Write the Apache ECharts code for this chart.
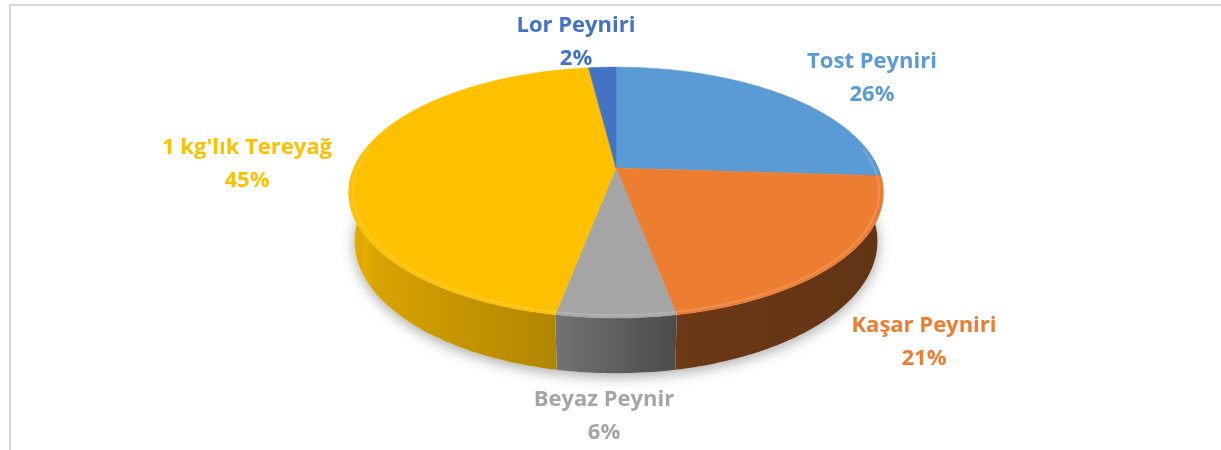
<!DOCTYPE html>
<html>
<head>
<meta charset="utf-8">
<script src="https://cdn.jsdelivr.net/npm/echarts@6/dist/echarts.min.js"></script>
<style>
  html, body { margin: 0; padding: 0; background: #fff; }
  #mainEchart { width: 1221px; height: 450px; }
</style>
</head>
<body>
<div id="mainEchart"></div>
<script>
  // slices, clockwise from 12 o'clock
  var categories = ['Tost Peyniri', 'Kaşar Peyniri', 'Beyaz Peynir', "1 kg'lık Tereyağ", 'Lor Peyniri'];
  var shares = [26, 21, 6, 45, 2];

  var colors = ['#5b9bd5', '#ed7d31', '#a5a5a5', '#ffc000', '#4472c4'];
  // label block centres (layout only)
  var labelAt = [[872, 78], [924, 342], [604, 416], [247, 164], [576, 42]];

  // 3d projection of the disc
  var CX = 616, CY = 168, K = 1190, DIST = 4.54, DEPTH = 0.21;
  var TILT = 27.4 * Math.PI / 180;
  var cT = Math.cos(TILT), sT = Math.sin(TILT);

  function project(theta, rho, z) {
    var X = rho * Math.sin(theta), Y = -rho * Math.cos(theta);
    var vy = -Y * sT + z * cT, w = Y * cT + z * sT, d = DIST - w;
    return [CX + K * X / d, CY - K * vy / d];
  }

  function shade(hex, f) {
    var n = parseInt(hex.slice(1), 16);
    var r = Math.round(((n >> 16) & 255) * f), g = Math.round(((n >> 8) & 255) * f), b = Math.round((n & 255) * f);
    return 'rgb(' + Math.min(r, 255) + ',' + Math.min(g, 255) + ',' + Math.min(b, 255) + ')';
  }
  function tint(hex, t) {
    var n = parseInt(hex.slice(1), 16);
    var c = [(n >> 16) & 255, (n >> 8) & 255, n & 255].map(function (v) { return Math.round(v + (255 - v) * t); });
    return 'rgb(' + c.join(',') + ')';
  }
  function wallLight(X) {
    if (X < -0.2) return 0.7 + (-0.2 - X) / 0.8 * 0.2;
    if (X < 0.2) return 0.7 - (X + 0.2) / 0.4 * 0.25;
    return 0.45 - (X - 0.2) * 0.05;
  }

  var total = shares.reduce(function (a, b) { return a + b; }, 0);
  var starts = [], acc = 0;
  shares.forEach(function (v) { starts.push(acc / total * Math.PI * 2); acc += v; });

  function renderSlice(params, api) {
    var i = params.dataIndex;
    var a0 = starts[i], a1 = a0 + api.value(0) / total * Math.PI * 2;
    var step = Math.PI / 180;
    var children = [];

    // outer wall, front part only, one shape with a left-right gradient
    var w0 = Math.max(a0, Math.PI * 0.45), w1 = Math.min(a1, Math.PI * 1.55);
    if (w1 > w0) {
      var upper = [], lower = [];
      for (var t = w0; t < w1; t += step) {
        upper.push(project(t, 1, 0));
        lower.push(project(t, 1, -DEPTH));
      }
      upper.push(project(w1, 1, 0));
      lower.push(project(w1, 1, -DEPTH));
      var xs = upper.concat(lower).map(function (p) { return p[0]; });
      var xmin = Math.min.apply(null, xs), xmax = Math.max.apply(null, xs);
      var stops = [];
      for (var s = 0; s <= 12; s++) {
        var ts = w0 + (w1 - w0) * s / 12;
        var px = project(ts, 1, 0)[0];
        stops.push({ offset: Math.max(0, Math.min(1, (px - xmin) / (xmax - xmin || 1))), color: shade(colors[i], wallLight(Math.sin(ts))) });
      }
      stops.sort(function (p, q) { return p.offset - q.offset; });
      children.push({
        type: 'polygon', z2: 2,
        shape: { points: upper.concat(lower.reverse()) },
        style: {
          fill: { type: 'linear', x: 0, y: 0, x2: 1, y2: 0, colorStops: stops },
          stroke: null
        }
      });
    }

    // top face
    var pts = [project(0, 0, 0)];
    for (var a = a0; a < a1; a += step) pts.push(project(a, 1, 0));
    pts.push(project(a1, 1, 0));
    children.push({
      type: 'polygon', z2: 10,
      shape: { points: pts },
      style: { fill: colors[i], stroke: colors[i], lineWidth: 0.5 }
    });

    // bevel highlight on the front rim
    if (w1 > w0) {
      var rim = [];
      for (var b = w0; b < w1; b += step) rim.push(project(b, 0.985, 0));
      rim.push(project(w1, 0.985, 0));
      children.push({
        type: 'polyline', z2: 11,
        shape: { points: rim },
        style: { stroke: tint(colors[i], 0.25), lineWidth: 2, opacity: 0.6, fill: null }
      });
    }

    children.push({
      type: 'text', z2: 20,
      x: labelAt[i][0], y: labelAt[i][1],
      style: {
        text: categories[i] + '\n' + api.value(0) + '%',
        fill: colors[i],
        font: 'bold 22px "Open Sans", Lato, sans-serif',
        lineHeight: 33,
        align: 'center', verticalAlign: 'middle'
      }
    });
    return { type: 'group', children: children };
  }

  var base = [];
  for (var k = 0; k <= 360; k += 2) base.push(project(k * Math.PI / 180, 1, -DEPTH));

  var option = {
    animation: false,
    graphic: [
      {
        type: 'rect', z: 0,
        shape: { x: 10, y: 5, width: 1300, height: 500 },
        style: { fill: null, stroke: '#d9d9d9', lineWidth: 2 }
      },
      {
        type: 'polygon', z: 0,
        shape: { points: base },
        style: { fill: '#fff', shadowBlur: 14, shadowColor: 'rgba(0,0,0,0.35)', shadowOffsetY: 3 }
      }
    ],
    series: [
      {
        type: 'custom',
        coordinateSystem: 'none',
        renderItem: renderSlice,
        data: shares.map(function (v) { return [v]; }),
        z: 2
      }
    ]
  };

  myEcharts = echarts.init(document.getElementById('mainEchart'));
  myEcharts.setOption(option);
</script>
</body>
</html>
